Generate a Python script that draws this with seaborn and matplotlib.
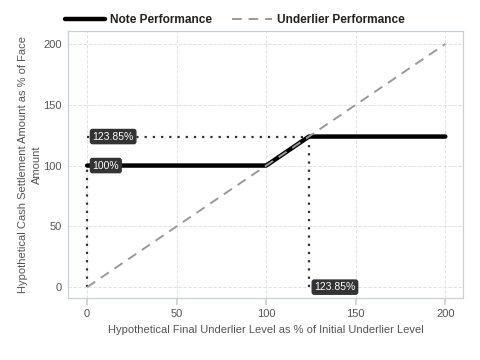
import seaborn as sns
import matplotlib.pyplot as plt
import pandas as pd

# payoff data
underlier_x = [0, 100, 123.85, 200]
note_y = [100, 100, 123.85, 123.85]
diag_x = [0, 200]
diag_y = [0, 200]
cap_level = 123.85
yticks = [0, 50, 100, 150, 200]
xticks = [0, 50, 100, 150, 200]

note = pd.DataFrame({'x': underlier_x, 'y': note_y})
under = pd.DataFrame({'x': diag_x, 'y': diag_y})

sns.set_theme(style='whitegrid')
plt.rcParams['font.family'] = ['Liberation Sans', 'DejaVu Sans']

fig, ax = plt.subplots(figsize=(4.8, 3.6), dpi=100)
fig.subplots_adjust(left=0.142, right=0.965, bottom=0.172, top=0.915)

# dotted guide lines
dot = dict(color='#2b2f45', lw=1.6, ls=(0, (1, 2.7)), zorder=2)
ax.plot([0, cap_level], [cap_level, cap_level], **dot)
ax.plot([0, 0], [0, 100], **dot)
ax.plot([cap_level, cap_level], [0, cap_level], **dot)

sns.lineplot(data=note, x='x', y='y', color='black', lw=3.2, ax=ax,
             label='Note Performance', zorder=3)
sns.lineplot(data=under, x='x', y='y', color='#999999', lw=1.4, ax=ax,
             ls=(0, (5, 3.5)), label='Underlier Performance', zorder=4)

box = dict(boxstyle='round,pad=0.2', fc='#333333', ec='#333333')
ax.text(3, cap_level, '123.85%', color='white', fontsize=7.5, va='center',
        bbox=box, zorder=5)
ax.text(3, 100, '100%', color='white', fontsize=7.5, va='center', bbox=box, zorder=5)
ax.text(cap_level + 3, 0, '123.85%', color='white', fontsize=7.5, va='center',
        bbox=box, zorder=5)

ax.set_xlim(-10.6, 210)
ax.set_ylim(-9, 211)
ax.set_xticks(xticks)
ax.set_yticks(yticks)
ax.grid(True, color='#dddddd', ls=(0, (4, 2)), lw=0.6)
for s in ax.spines.values():
    s.set_color('#c8d0da')
    s.set_linewidth(0.9)
ax.tick_params(colors='#555555', labelsize=8, color='#c8d0da')
ax.tick_params(axis='x', bottom=True, length=5, pad=3)
ax.tick_params(axis='y', left=False, length=0, pad=4.5)
ax.set_xlabel('Hypothetical Final Underlier Level as % of Initial Underlier Level',
              fontsize=8, color='#555555')
ax.set_ylabel('Hypothetical Cash Settlement Amount as % of Face\nAmount',
              fontsize=8, color='#555555', linespacing=1.5)
ax.yaxis.set_label_coords(-0.066, 0.5)

leg = ax.legend(loc='lower left', bbox_to_anchor=(-0.02, 1.0), ncol=2, frameon=False,
                prop={'weight': 'bold', 'size': 8.6}, handlelength=3.35,
                handletextpad=0.4, columnspacing=1.7, borderaxespad=0.0)
for t in leg.get_texts():
    t.set_color('#222222')

fig.savefig('out.png', dpi=100)
